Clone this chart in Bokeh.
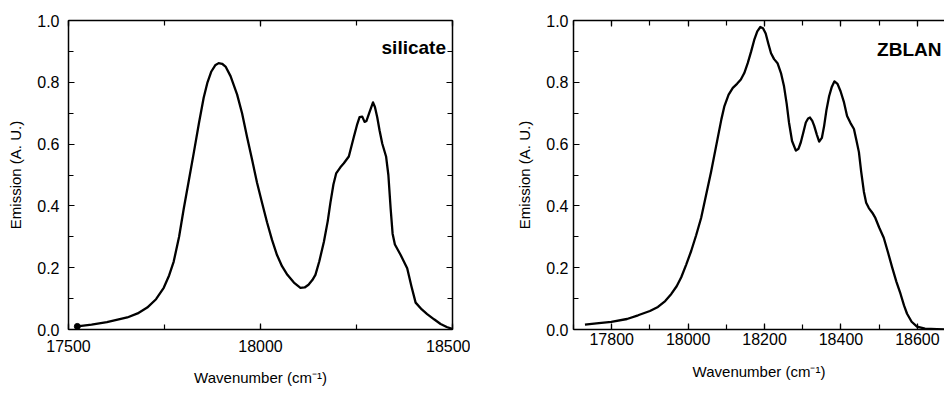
from bokeh.plotting import figure
from bokeh.layouts import row
from bokeh.models import (LinearAxis, Range1d, Label, SingleIntervalTicker,
                          PrintfTickFormatter, CustomJSTickFormatter)
from bokeh.embed import file_html
from bokeh.resources import INLINE

# Emission spectra: silicate glass
silicate_wn = [17523, 17560, 17600, 17653, 17680, 17705, 17728, 17748, 17762, 17774,
               17788, 17800, 17813, 17826, 17840, 17852, 17862, 17872, 17882, 17891,
               17900, 17909, 17922, 17939, 17952, 17965, 17978, 17991, 18004, 18017,
               18030, 18043, 18056, 18070, 18087, 18104, 18115, 18125, 18135, 18143,
               18153, 18165, 18175, 18182, 18190, 18197, 18208, 18217, 18230, 18243,
               18252, 18258, 18265, 18271, 18276, 18283, 18293, 18298, 18304, 18310,
               18317, 18327, 18333, 18339, 18344, 18350, 18365, 18382, 18393, 18404,
               18420, 18434, 18452, 18469, 18485, 18499]
silicate_em = [0.010, 0.016, 0.024, 0.039, 0.052, 0.071, 0.098, 0.135, 0.175, 0.220,
               0.300, 0.390, 0.480, 0.570, 0.670, 0.750, 0.800, 0.835, 0.855, 0.862,
               0.860, 0.851, 0.820, 0.761, 0.700, 0.623, 0.550, 0.475, 0.410, 0.347,
               0.290, 0.241, 0.205, 0.177, 0.152, 0.135, 0.136, 0.145, 0.160, 0.177,
               0.220, 0.283, 0.350, 0.410, 0.470, 0.505, 0.525, 0.538, 0.560, 0.623,
               0.665, 0.687, 0.689, 0.672, 0.675, 0.700, 0.735, 0.720, 0.687, 0.645,
               0.602, 0.560, 0.500, 0.390, 0.310, 0.275, 0.241, 0.198, 0.140, 0.087,
               0.065, 0.050, 0.033, 0.018, 0.008, 0.002]

# Emission spectra: ZBLAN glass
zblan_wn = [17730, 17760, 17799, 17840, 17869, 17900, 17921, 17940, 17956, 17970,
            17982, 17995, 18008, 18021, 18034, 18047, 18060, 18077, 18087, 18095,
            18106, 18117, 18128, 18138, 18147, 18156, 18165, 18173, 18181, 18189,
            18196, 18203, 18210, 18217, 18225, 18234, 18243, 18251, 18258, 18264,
            18272, 18282, 18289, 18295, 18302, 18308, 18314, 18319, 18325, 18330,
            18337, 18343, 18350, 18356, 18362, 18369, 18376, 18383, 18391, 18399,
            18408, 18416, 18425, 18434, 18440, 18447, 18453, 18460, 18466, 18473,
            18482, 18490, 18500, 18512, 18523, 18534, 18545, 18556, 18565, 18573,
            18585, 18599, 18620, 18651, 18675]
zblan_em = [0.016, 0.020, 0.025, 0.034, 0.046, 0.060, 0.073, 0.092, 0.115, 0.140,
            0.169, 0.210, 0.254, 0.305, 0.361, 0.435, 0.510, 0.617, 0.680, 0.723,
            0.760, 0.782, 0.795, 0.809, 0.830, 0.862, 0.900, 0.937, 0.965, 0.979,
            0.975, 0.958, 0.925, 0.894, 0.875, 0.862, 0.830, 0.787, 0.730, 0.670,
            0.610, 0.579, 0.585, 0.606, 0.640, 0.670, 0.683, 0.686, 0.675, 0.659,
            0.630, 0.608, 0.620, 0.659, 0.710, 0.755, 0.785, 0.803, 0.795, 0.771,
            0.735, 0.691, 0.668, 0.649, 0.615, 0.574, 0.510, 0.446, 0.410, 0.393,
            0.378, 0.361, 0.330, 0.297, 0.250, 0.201, 0.155, 0.115, 0.078, 0.051,
            0.025, 0.009, 0.003, 0.001, 0.000]

x_title = "Wavenumber (cm\u207b\u00b9)"
y_title = "Emission (A. U.)"
FONT = "Liberation Sans"


def style_axis(ax, labels=True, major=6, minor=5):
    ax.axis_line_color = "black"
    ax.axis_line_width = 1.5
    ax.major_tick_line_color = "black"
    ax.minor_tick_line_color = "black"
    ax.major_tick_line_width = 1.2
    ax.minor_tick_line_width = 1.2
    ax.major_tick_in = major
    ax.major_tick_out = 0
    ax.minor_tick_in = minor
    ax.minor_tick_out = 0
    ax.major_label_text_font = FONT
    ax.major_label_text_color = "black"
    ax.major_label_text_font_size = "16px"
    ax.axis_label_text_font = FONT
    ax.axis_label_text_font_style = "normal"
    ax.axis_label_text_color = "black"
    ax.axis_label_text_font_size = "15px"
    if not labels:
        # tick marks only, no tick labels on the mirrored sides
        ax.formatter = CustomJSTickFormatter(code="return '';")
        ax.major_label_standoff = 0


def make_panel(xr, width, borders, xtick, wn, em, label, label_pos,
               standoffs, right_axis):
    left, right, top, bottom = borders
    p = figure(width=width, height=394, x_range=Range1d(*xr), y_range=Range1d(0, 1.0),
               output_backend="svg", toolbar_location=None,
               min_border_left=left, min_border_right=right,
               min_border_top=top, min_border_bottom=bottom,
               background_fill_color="white", border_fill_color="white")
    p.grid.visible = False
    p.outline_line_color = None

    p.xaxis.ticker = SingleIntervalTicker(interval=xtick[0], num_minor_ticks=xtick[1])
    p.yaxis.ticker = SingleIntervalTicker(interval=0.2, num_minor_ticks=2)
    p.yaxis.formatter = PrintfTickFormatter(format="%.1f")
    p.xaxis.formatter = PrintfTickFormatter(format="%d")
    p.xaxis.axis_label = x_title
    p.yaxis.axis_label = y_title
    for ax in p.xaxis + p.yaxis:
        style_axis(ax)
    p.xaxis.major_label_standoff = standoffs[0]
    p.xaxis.axis_label_standoff = standoffs[1]
    p.yaxis.major_label_standoff = standoffs[2]
    p.yaxis.axis_label_standoff = standoffs[3]

    top_ax = LinearAxis(ticker=SingleIntervalTicker(interval=xtick[0], num_minor_ticks=xtick[1]))
    style_axis(top_ax, labels=False)
    p.add_layout(top_ax, "above")
    if right_axis:
        r_ax = LinearAxis(ticker=SingleIntervalTicker(interval=0.2, num_minor_ticks=2))
        style_axis(r_ax, labels=False)
        p.add_layout(r_ax, "right")

    p.line(wn, em, line_color="black", line_width=2.3, line_join="round")

    p.add_layout(Label(x=label_pos[0], y=label_pos[1], text=label,
                       text_font=FONT, text_font_style="bold", text_font_size="19px",
                       text_align="right", text_baseline="middle", text_color="black"))
    return p


p1 = make_panel((17500, 18500), 470, (68, 18, 15, 65), (500, 2),
                silicate_wn, silicate_em, "silicate", (18483, 0.914),
                (10, 14, 9, 10), True)
p1.scatter(silicate_wn[:1], silicate_em[:1], size=6, color="black")

p2 = make_panel((17700, 18671), 474, (103, 0, 20, 61), (200, 2),
                zblan_wn, zblan_em, "ZBLAN", (18663, 0.905),
                (3, 15, 5, 10), False)

layout = row(p1, p2, spacing=0)
open("out.html", "w").write(file_html(layout, INLINE))
